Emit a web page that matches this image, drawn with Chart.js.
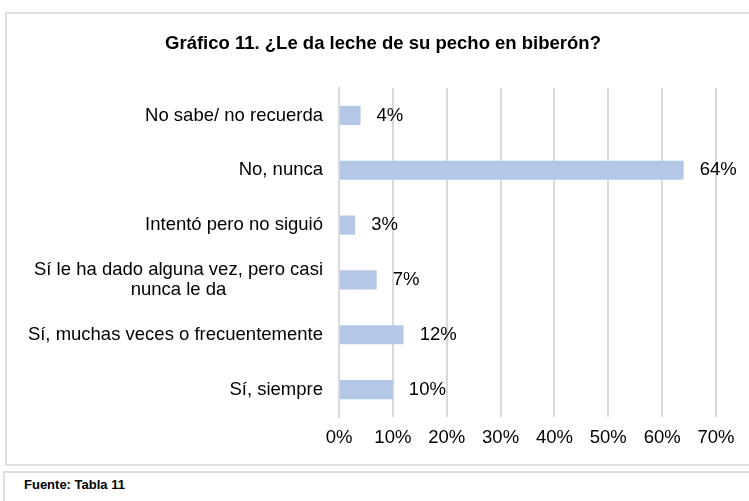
<!DOCTYPE html>
<html>
<head>
<meta charset="utf-8">
<script src="https://cdn.jsdelivr.net/npm/chart.js@4"></script>
<style>
  body { margin: 0; background: #fff; }
  .box { position: absolute; border: 2px solid #dedede; box-sizing: border-box; }
  #box1 { left: 5px; top: 12px; width: 760px; height: 454px; }
  #box2 { left: 3px; top: 471px; width: 760px; height: 40px; }
  #fuente { position: absolute; left: 24px; top: 477px; font: bold 13px "Liberation Sans", Arial, sans-serif; color: #000; }
  #wrap { position: absolute; left: 0; top: 0; width: 749px; height: 501px; }
</style>
</head>
<body>
<div class="box" id="box1"></div>
<div class="box" id="box2"></div>
<div id="fuente">Fuente: Tabla 11</div>
<div id="wrap"><canvas id="chart"></canvas></div>
<script>
const chartTitle = "Gráfico 11. ¿Le da leche de su pecho en biberón?";
const categories = [
  "No sabe/ no recuerda",
  "No, nunca",
  "Intentó pero no siguió",
  ["Sí le ha dado alguna vez, pero casi", "nunca le da"],
  "Sí, muchas veces o frecuentemente",
  "Sí, siempre"
];
const values = [4, 64, 3, 7, 12, 10];
const xTicks = [0, 10, 20, 30, 40, 50, 60, 70];

const FONT = '"Liberation Sans", Arial, sans-serif';

const drawExtras = {
  id: "drawExtras",
  afterDraw(chart) {
    const ctx = chart.ctx;
    const y = chart.scales.y;
    ctx.save();
    ctx.fillStyle = "#000";
    // title
    ctx.font = "bold 18.5px " + FONT;
    ctx.textAlign = "center";
    ctx.textBaseline = "middle";
    ctx.fillText(chartTitle, 383, 44);
    // category labels
    ctx.font = "18.5px " + FONT;
    const right = chart.chartArea.left - 16;
    categories.forEach((lab, i) => {
      const cy = y.getPixelForValue(i);
      if (Array.isArray(lab)) {
        const w = Math.max(...lab.map(l => ctx.measureText(l).width));
        const cx = right - w / 2;
        const lh = 20;
        ctx.textAlign = "center";
        lab.forEach((l, k) => {
          ctx.fillText(l, cx, cy + (k - (lab.length - 1) / 2) * lh);
        });
      } else {
        ctx.textAlign = "right";
        ctx.fillText(lab, right, cy);
      }
    });
    // data labels
    ctx.textAlign = "left";
    chart.getDatasetMeta(0).data.forEach((bar, i) => {
      ctx.fillText(values[i] + "%", bar.x + 16, bar.y);
    });
    ctx.restore();
  }
};

new Chart(document.getElementById("chart"), {
  type: "bar",
  data: {
    labels: categories,
    datasets: [{
      data: values,
      backgroundColor: "#B4C7E7",
      barPercentage: 0.35,
      categoryPercentage: 1
    }]
  },
  options: {
    indexAxis: "y",
    responsive: true,
    maintainAspectRatio: false,
    animation: false,
    layout: { padding: { top: 88, right: 33, bottom: 0, left: 0 } },
    plugins: {
      legend: { display: false },
      tooltip: { enabled: false }
    },
    scales: {
      x: {
        min: 0,
        max: 70,
        afterBuildTicks(scale) {
          scale.ticks = xTicks.map(v => ({ value: v }));
        },
        afterFit(scale) { scale.height = 84; },
        grid: { color: "#d9d9d9", lineWidth: 2, drawTicks: false },
        border: { display: false },
        ticks: {
          padding: 10,
          color: "#000",
          font: { family: FONT, size: 18.5 },
          callback: v => v + "%"
        }
      },
      y: {
        afterFit(scale) { scale.width = 339; },
        grid: { display: false },
        border: { color: "#d9d9d9", width: 2 },
        ticks: { display: false }
      }
    }
  },
  plugins: [drawExtras]
});
</script>
</body>
</html>
